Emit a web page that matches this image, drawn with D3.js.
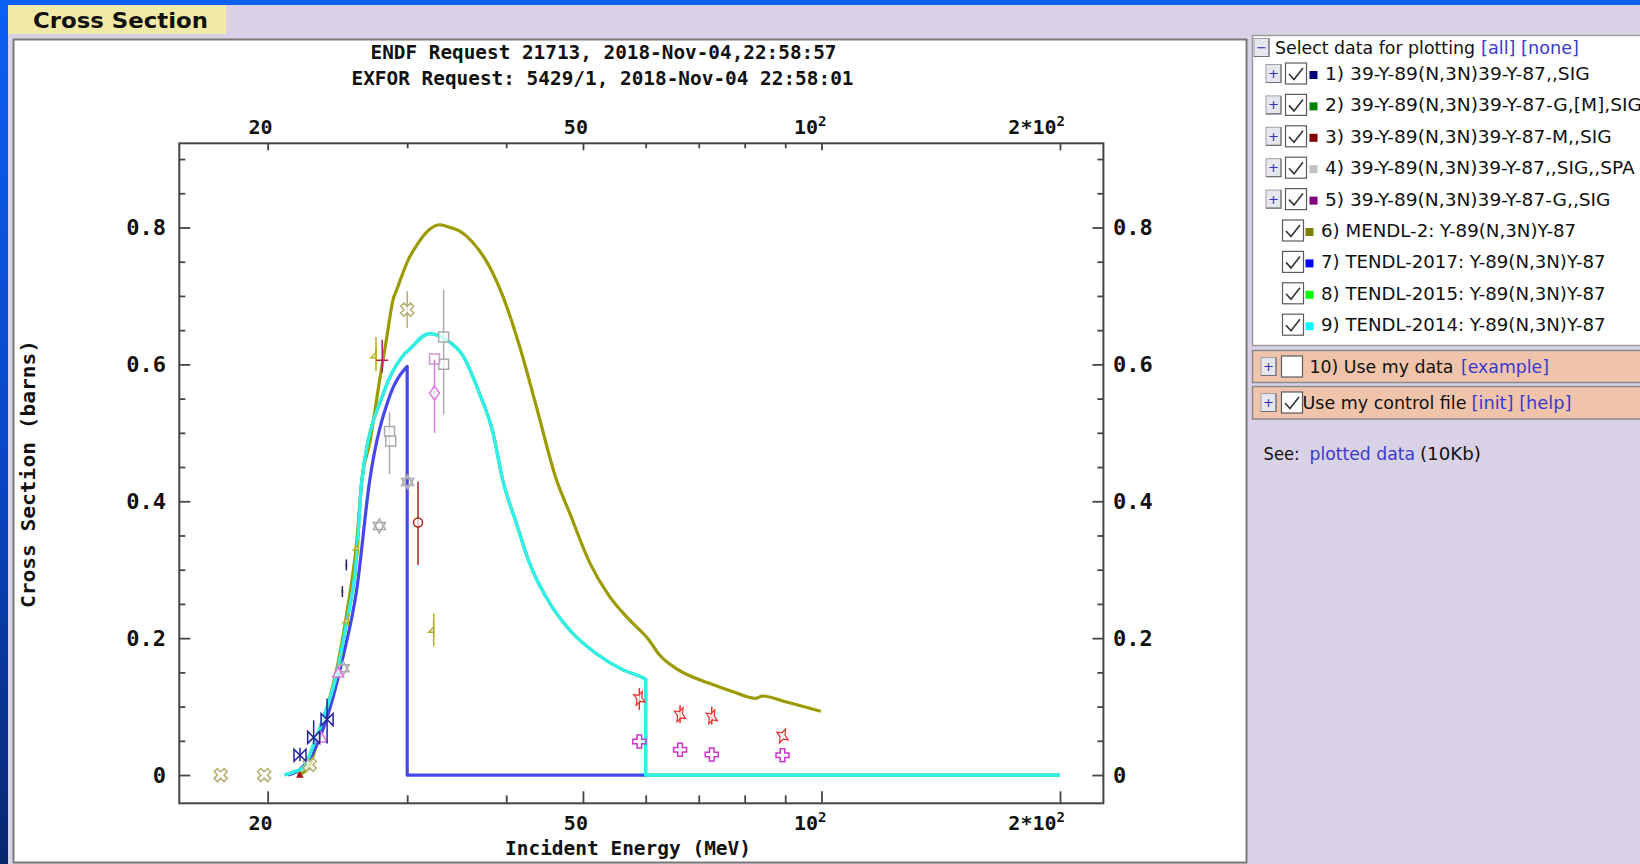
<!DOCTYPE html>
<html><head><meta charset="utf-8">
<script src="https://cdn.jsdelivr.net/npm/d3@7"></script>
<style>body{margin:0;background:#d9d1e5;overflow:hidden}svg{display:block}</style>
</head><body><svg id="c" width="1640" height="864"></svg>
<script>
// ---------------- DATA ----------------
const titleLines = ["ENDF Request 21713, 2018-Nov-04,22:58:57", "EXFOR Request: 5429/1, 2018-Nov-04 22:58:01"];
const xTitle = "Incident Energy (MeV)";
const yTitle = "Cross Section (barns)";
const xMajorTicks = [20, 50, 100, 200];
const xMajorLabels = [["20",""],["50",""],["10","2"],["2*10","2"]];
const xMinorTicks = [30, 40, 60, 70, 80, 90];
const yMajorTicks = [0, 0.2, 0.4, 0.6, 0.8];
const yMajorLabels = ["0", "0.2", "0.4", "0.6", "0.8"];
const yMinorTicks = [0.05, 0.1, 0.15, 0.25, 0.3, 0.35, 0.45, 0.5, 0.55, 0.65, 0.7, 0.75, 0.85, 0.9];

// evaluated curves [E (MeV), sigma (b)]
const mendl2 = [[21.8,0],[22.5,0.01],[23.0,0.04],[23.8,0.10],[24.5,0.16],[25.2,0.24],[25.9,0.34],[26.3,0.431],[26.9,0.485],[27.7,0.578],[28.24,0.636],[28.8,0.695],[29.1,0.709],[30.1,0.753],[31.0,0.778],[32.0,0.797],[33.0,0.804],[34.0,0.800],[34.9,0.795],[36.3,0.778],[38.1,0.743],[39.6,0.700],[41.6,0.626],[43.65,0.539],[46.3,0.431],[48.1,0.383],[51.0,0.31],[54.0,0.261],[57.2,0.227],[60.6,0.197],[62.4,0.176],[65.9,0.154],[72.2,0.134],[77.2,0.122],[82.6,0.112],[84.3,0.1155],[90.1,0.107],[99.8,0.093]];
const tendl2017 = [[21.2,0],[21.9,0.007],[22.8,0.032],[24.0,0.10],[24.9,0.173],[25.9,0.27],[26.9,0.43],[28.5,0.553],[30.0,0.597],[30.0,0],[60.0,0]];
const tendl2015 = [[21.0,0],[21.5,0.004],[22.2,0.011],[22.8,0.041],[23.7,0.095],[24.4,0.144],[25.1,0.217],[25.9,0.319],[26.3,0.431],[28.0,0.558],[29.6,0.612],[30.2,0.622],[32.0,0.645],[33.6,0.636],[35.3,0.612],[37.0,0.558],[38.5,0.50],[39.6,0.431],[41.2,0.368],[42.8,0.310],[45.4,0.251],[48.1,0.212],[51.9,0.178],[56.1,0.154],[59.8,0.141],[60.0,0.14],[60.0,0],[200,0]];
const tendl2014 = [[21.0,0],[21.5,0.004],[22.2,0.011],[22.8,0.041],[23.7,0.095],[24.4,0.144],[25.1,0.217],[25.9,0.319],[26.3,0.431],[28.0,0.558],[29.6,0.612],[30.2,0.622],[32.0,0.645],[33.6,0.636],[35.3,0.612],[37.0,0.558],[38.5,0.50],[39.6,0.431],[41.2,0.368],[42.8,0.310],[45.4,0.251],[48.1,0.212],[51.9,0.178],[56.1,0.154],[59.8,0.141],[60.0,0.14],[60.0,0],[200,0]];

// EXFOR points [E, sigma, errLow, errHigh]
const khakiCross = [[17.45,0,0,0],[19.8,0,0,0],[22.6,0.015,0.015,0.015],[30.0,0.680,0.653,0.707]];
const navyBowtie = [[21.97,0.029,0.02,0.04],[22.86,0.055,0.045,0.08],[23.77,0.081,0.046,0.112]];
const navyDash = [[24.85,0.268,0.26,0.276],[25.14,0.307,0.299,0.315]];
const darkRedCircle = [[30.96,0.369,0.307,0.429]];
const darkRedSmall = [[21.96,0.0,0,0]];
const crimsonBar = [[27.9,0.606,0.588,0.636]];
const grayHexagram = [[24.9,0.156,0.156,0.156],[27.67,0.364,0.364,0.364],[30.04,0.428,0.428,0.428]];
const graySquare = [[28.5,0.502,0.44,0.53],[28.6,0.488,0.488,0.488],[33.35,0.640,0.527,0.709],[33.35,0.600,0.6,0.6]];
const pinkSquare = [[32.48,0.608,0.608,0.608]];
const pinkDiamond = [[32.48,0.558,0.50,0.607]];
const pinkTriangle = [[23.38,0.054,0.054,0.054],[24.55,0.149,0.149,0.149]];
const oliveFlag = [[25.27,0.227,0.227,0.227],[26.04,0.333,0.333,0.333],[27.4,0.614,0.59,0.64],[32.4,0.213,0.188,0.236]];
const redStar = [[58.9,0.112,0.095,0.127],[66.3,0.088,0.076,0.102],[72.7,0.085,0.074,0.100],[89.3,0.057,0.057,0.057]];
const magentaPlus = [[58.9,0.049,0.049,0.049],[66.3,0.037,0.037,0.037],[72.7,0.030,0.030,0.030],[89.3,0.029,0.029,0.029]];

// legend
const legendNames = ["1) 39-Y-89(N,3N)39-Y-87,,SIG","2) 39-Y-89(N,3N)39-Y-87-G,[M],SIG","3) 39-Y-89(N,3N)39-Y-87-M,,SIG","4) 39-Y-89(N,3N)39-Y-87,,SIG,,SPA","5) 39-Y-89(N,3N)39-Y-87-G,,SIG","6) MENDL-2: Y-89(N,3N)Y-87","7) TENDL-2017: Y-89(N,3N)Y-87","8) TENDL-2015: Y-89(N,3N)Y-87","9) TENDL-2014: Y-89(N,3N)Y-87"];
const legendColors = ["#000080","#008000","#800000","#c0c0c0","#800080","#808000","#0000ff","#00ff00","#00ffff"];
const legendExpandable = [true,true,true,true,true,false,false,false,false];

// ---------------- DRAW ----------------
const svg = d3.select("#c");
const W = 1640, H = 864;
const defs = svg.append("defs");
const lg = defs.append("linearGradient").attr("id","lg").attr("x1",0).attr("y1",0).attr("x2",0).attr("y2",1);
lg.append("stop").attr("offset","0%").attr("stop-color","#0b60f2");
lg.append("stop").attr("offset","55%").attr("stop-color","#0946c4");
lg.append("stop").attr("offset","100%").attr("stop-color","#08286e");

svg.append("rect").attr("width",W).attr("height",H).attr("fill","#d9d1e5");
svg.append("rect").attr("x",0).attr("y",0).attr("width",W).attr("height",5).attr("fill","#0b60f2");
svg.append("rect").attr("x",0).attr("y",0).attr("width",8).attr("height",H).attr("fill","url(#lg)");

// tab
svg.append("rect").attr("x",8).attr("y",5).attr("width",218).attr("height",29).attr("fill","#f1eaa6");
svg.append("text").attr("x",33).attr("y",28).attr("font-family","DejaVu Sans").attr("font-weight","bold")
  .attr("font-size",21).attr("textLength",175).attr("lengthAdjust","spacingAndGlyphs").attr("fill","#111").text("Cross Section");

// chart box
svg.append("rect").attr("x",13.5).attr("y",39.5).attr("width",1233).attr("height",823).attr("fill","#fff")
  .attr("stroke","#7a7a7a").attr("stroke-width",2);

const mono = "DejaVu Sans Mono";
// titles
svg.append("text").attr("x",603.5).attr("y",59).attr("text-anchor","middle").attr("font-family",mono).attr("font-weight","bold")
  .attr("font-size",19).attr("textLength",466).attr("lengthAdjust","spacingAndGlyphs").attr("fill","#111").text(titleLines[0]);
svg.append("text").attr("x",602.5).attr("y",85).attr("text-anchor","middle").attr("font-family",mono).attr("font-weight","bold")
  .attr("font-size",19).attr("textLength",502).attr("lengthAdjust","spacingAndGlyphs").attr("fill","#111").text(titleLines[1]);

// scales
const L = 179.3, R = 1103.4, T = 143.3, B = 803.3;
const x = d3.scaleLog().domain([15.47, 226.9]).range([L, R]);
const y = d3.scaleLinear().domain([-0.0413, 0.923]).range([B, T]);

const plot = svg.append("g");
const clip = defs.append("clipPath").attr("id","pc");
clip.append("rect").attr("x",L).attr("y",T).attr("width",R-L).attr("height",B-T);

// axes ticks
function styleAxis(g){ g.select(".domain").remove(); g.selectAll("line").attr("stroke","#444").attr("stroke-width",1.8); g.selectAll("text").remove(); }
svg.append("g").attr("transform",`translate(0,${B})`).call(d3.axisBottom(x).tickValues(xMajorTicks).tickSizeInner(-12).tickSizeOuter(0).tickFormat("")).call(styleAxis);
svg.append("g").attr("transform",`translate(0,${B})`).call(d3.axisBottom(x).tickValues(xMinorTicks).tickSizeInner(-8).tickSizeOuter(0).tickFormat("")).call(styleAxis);
svg.append("g").attr("transform",`translate(0,${T})`).call(d3.axisTop(x).tickValues(xMajorTicks).tickSizeInner(-7).tickSizeOuter(0).tickFormat("")).call(styleAxis);
svg.append("g").attr("transform",`translate(0,${T})`).call(d3.axisTop(x).tickValues(xMinorTicks).tickSizeInner(-5).tickSizeOuter(0).tickFormat("")).call(styleAxis);
svg.append("g").attr("transform",`translate(${L},0)`).call(d3.axisLeft(y).tickValues(yMajorTicks).tickSizeInner(-11).tickSizeOuter(0).tickFormat("")).call(styleAxis);
svg.append("g").attr("transform",`translate(${L},0)`).call(d3.axisLeft(y).tickValues(yMinorTicks).tickSizeInner(-6).tickSizeOuter(0).tickFormat("")).call(styleAxis);
svg.append("g").attr("transform",`translate(${R},0)`).call(d3.axisRight(y).tickValues(yMajorTicks).tickSizeInner(-11).tickSizeOuter(0).tickFormat("")).call(styleAxis);
svg.append("g").attr("transform",`translate(${R},0)`).call(d3.axisRight(y).tickValues(yMinorTicks).tickSizeInner(-6).tickSizeOuter(0).tickFormat("")).call(styleAxis);

// frame
svg.append("rect").attr("x",L).attr("y",T).attr("width",R-L).attr("height",B-T).attr("fill","none").attr("stroke","#444").attr("stroke-width",2);

// tick labels
function xLabels(baseY){
  xMajorTicks.forEach((v,i)=>{
    const t = svg.append("text").attr("x",x(v)+5).attr("y",baseY).attr("text-anchor","end")
      .attr("font-family",mono).attr("font-weight","bold").attr("font-size",20).attr("fill","#111");
    t.append("tspan").text(xMajorLabels[i][0]);
    if (xMajorLabels[i][1]) t.append("tspan").attr("dy",-8).attr("font-size",14).text(xMajorLabels[i][1]);
  });
}
xLabels(134); xLabels(830);
yMajorTicks.forEach((v,i)=>{
  svg.append("text").attr("x",166).attr("y",y(v)+7.5).attr("text-anchor","end").attr("font-family",mono).attr("font-weight","bold")
    .attr("font-size",22).attr("fill","#111").text(yMajorLabels[i]);
  svg.append("text").attr("x",1113).attr("y",y(v)+7.5).attr("text-anchor","start").attr("font-family",mono).attr("font-weight","bold")
    .attr("font-size",22).attr("fill","#111").text(yMajorLabels[i]);
});
svg.append("text").attr("x",628).attr("y",855).attr("text-anchor","middle").attr("font-family",mono).attr("font-weight","bold")
  .attr("font-size",19).attr("textLength",246).attr("lengthAdjust","spacingAndGlyphs").attr("fill","#111").text(xTitle);
svg.append("text").attr("transform","translate(35,474) rotate(-90)").attr("text-anchor","middle").attr("font-family",mono).attr("font-weight","bold")
  .attr("font-size",19).attr("textLength",268).attr("lengthAdjust","spacingAndGlyphs").attr("fill","#111").text(yTitle);

// curves: smooth where energies increase, straight segments for vertical steps
const smooth = d3.line().x(d=>x(d[0])).y(d=>y(d[1])).curve(d3.curveMonotoneX);
const straight = d3.line().x(d=>x(d[0])).y(d=>y(d[1]));
function splitIdx(d){ for (let i=1;i<d.length;i++) if (d[i][0]===d[i-1][0]) return i-1; return d.length-1; }
const curves = plot.append("g").attr("clip-path","url(#pc)");
[[mendl2,"#9b9b00"],[tendl2017,"#4646ec"],[tendl2015,"#22dd22"],[tendl2014,"#33eeee"]].forEach(([d,c])=>{
  const k = splitIdx(d);
  const p = smooth(d.slice(0,k+1)) + (k < d.length-1 ? straight(d.slice(k)).replace(/^M/,"L") : "");
  curves.append("path").attr("d",p).attr("fill","none").attr("stroke",c).attr("stroke-width",3.2).attr("stroke-linejoin","round");
});

// symbols
function rot(pts, a){ const c=Math.cos(a), s=Math.sin(a); return pts.map(([px,py])=>[px*c-py*s, px*s+py*c]); }
function poly(pts){ return "M"+pts.map(p=>p[0].toFixed(2)+","+p[1].toFixed(2)).join("L")+"Z"; }
function plusPts(a, r){ return [[-a,-r],[a,-r],[a,-a],[r,-a],[r,a],[a,a],[a,r],[-a,r],[-a,a],[-r,a],[-r,-a],[-a,-a]]; }
const symbols = {
  xcross: poly(rot(plusPts(2.3,7), Math.PI/4)),
  plus: poly(plusPts(2.3,6.5)),
  bowtie: "M-6,-6L0,0L-6,6ZM6,-6L0,0L6,6Z",
  hexagram: poly([[0,-7],[6.06,3.5],[-6.06,3.5]]) + poly([[0,7],[6.06,-3.5],[-6.06,-3.5]]),
  square: "M-5,-5L5,-5L5,5L-5,5Z",
  diamond: "M0,-7L5,0L0,7L-5,0Z",
  circle: "M4.5,0A4.5,4.5 0 1,1 -4.5,0A4.5,4.5 0 1,1 4.5,0Z",
  small: "M-2.5,2L2.5,2L0,-2.5Z",
  star4: poly(d3.range(8).map(i=>{ const a=i*Math.PI/4+0.5; const r=i%2?3.2:8; return [r*Math.cos(a)*0.8, r*Math.sin(a)]; })),
  flag: "M0,-7L0,7M0,-2L-5,3L0,3Z",
  triangle: "M0,-6L5.5,4L-5.5,4Z",
  bar: "M-6,0L6,0",
  dash: "M0,-1.5L0,1.5"
};
const pointSets = [
  [khakiCross,"#b5ae70","xcross"],[grayHexagram,"#aaaaaa","hexagram"],[graySquare,"#aaaaaa","square"],
  [pinkTriangle,"#dd77dd","triangle"],[oliveFlag,"#b0b020","flag"],[navyDash,"#222266","dash"],
  [navyBowtie,"#2222a0","bowtie"],[darkRedSmall,"#aa1111","small"],[crimsonBar,"#b0205a","bar"],
  [darkRedCircle,"#aa2222","circle"],[pinkSquare,"#cc99cc","square"],[pinkDiamond,"#dd77dd","diamond"],
  [redStar,"#ee2a2a","star4"],[magentaPlus,"#cc33cc","plus"]
];
const pts = plot.append("g");
pointSets.forEach(([data,color,sym])=>{
  const g = pts.append("g");
  g.selectAll("line.err").data(data.filter(d=>d[3]>d[2])).join("line")
    .attr("x1",d=>x(d[0])).attr("x2",d=>x(d[0])).attr("y1",d=>y(d[2])).attr("y2",d=>y(d[3]))
    .attr("stroke",color).attr("stroke-width",1.5);
  g.selectAll("path").data(data).join("path").attr("d",symbols[sym])
    .attr("transform",d=>`translate(${x(d[0])},${y(d[1])})`)
    .attr("fill", sym==="small" ? color : "#fff").attr("fill-opacity", sym==="small"?1:0.7)
    .attr("stroke",color).attr("stroke-width",sym==="star4"?1.2:1.5);
});

// ---------------- LEGEND PANEL ----------------
const sans = "DejaVu Sans";
const FS = 17;
function txt(x0, y0, s, len, color){
  return svg.append("text").attr("x",x0).attr("y",y0).attr("font-family",sans).attr("font-size",FS)
    .attr("textLength",len).attr("lengthAdjust","spacingAndGlyphs").attr("fill",color||"#111").text(s);
}
svg.append("rect").attr("x",1252.5).attr("y",35.5).attr("width",400).attr("height",310).attr("fill","#fff").attr("stroke","#9a9a9a").attr("stroke-width",1.5);
function btn(x0, yc, sym){
  svg.append("rect").attr("x",x0).attr("y",yc-9).attr("width",15).attr("height",18).attr("fill","#e6e6ee").attr("stroke","#a0a0a8").attr("stroke-width",1);
  svg.append("path").attr("d",`M${x0+15},${yc-9}L${x0+15},${yc+9}L${x0},${yc+9}`).attr("fill","none").attr("stroke","#707078").attr("stroke-width",1.2);
  svg.append("text").attr("x",x0+7.5).attr("y",yc+4.5).attr("text-anchor","middle").attr("font-family",sans).attr("font-size",13).attr("fill","#3030b0").text(sym);
}
function checkbox(x0, yc, checked){
  svg.append("rect").attr("x",x0+0.5).attr("y",yc-10.5).attr("width",21).attr("height",21).attr("fill","#fff").attr("stroke","#5a5a5a").attr("stroke-width",1.2);
  if (checked) svg.append("path").attr("d",`M${x0+4},${yc+0.5}L${x0+9},${yc+6}L${x0+18},${yc-5.5}`).attr("fill","none").attr("stroke","#333").attr("stroke-width",1.6);
}
// header
btn(1254, 47.5, "−");
txt(1275, 53.5, "Select data for plotting", 200);
txt(1481, 53.5, "[all] [none]", 98, "#3a3acc");

const rowLens = [264.6, 317, 286.6, 309.6, 285.5, 255.2, 284.5, 284.5, 284.5];
legendNames.forEach((name,i)=>{
  const yc = 73.5 + i*31.4;
  const exp = legendExpandable[i];
  if (exp) btn(1266, yc, "+");
  const cbx = exp ? 1285 : 1282;
  checkbox(cbx, yc, true);
  const sqx = exp ? 1309.5 : 1305.5;
  svg.append("rect").attr("x",sqx).attr("y",yc-2.5).attr("width",8).attr("height",8).attr("fill",legendColors[i]);
  txt(exp?1325:1321, yc+6.5, name, rowLens[i]);
});

// salmon rows
function salmonRow(y0, h){
  svg.append("rect").attr("x",1252.5).attr("y",y0).attr("width",400).attr("height",h).attr("fill","#f0c3ab").attr("stroke","#8a8a8a").attr("stroke-width",1.5);
}
salmonRow(350.5, 32);
salmonRow(386.5, 32.5);
btn(1261, 366.5, "+");
checkbox(1281, 366.5, false);
txt(1309.5, 373, "10) Use my data", 144);
txt(1461, 373, "[example]", 88, "#3a3acc");
btn(1261, 402.5, "+");
checkbox(1281, 402.5, true);
txt(1302.5, 409, "Use my control file", 164);
txt(1471.5, 409, "[init] [help]", 100, "#3a3acc");

txt(1263.5, 459.5, "See:", 36);
txt(1309.5, 459.5, "plotted data", 105.5, "#3a3acc");
txt(1420, 459.5, "(10Kb)", 61);
</script></body></html>
